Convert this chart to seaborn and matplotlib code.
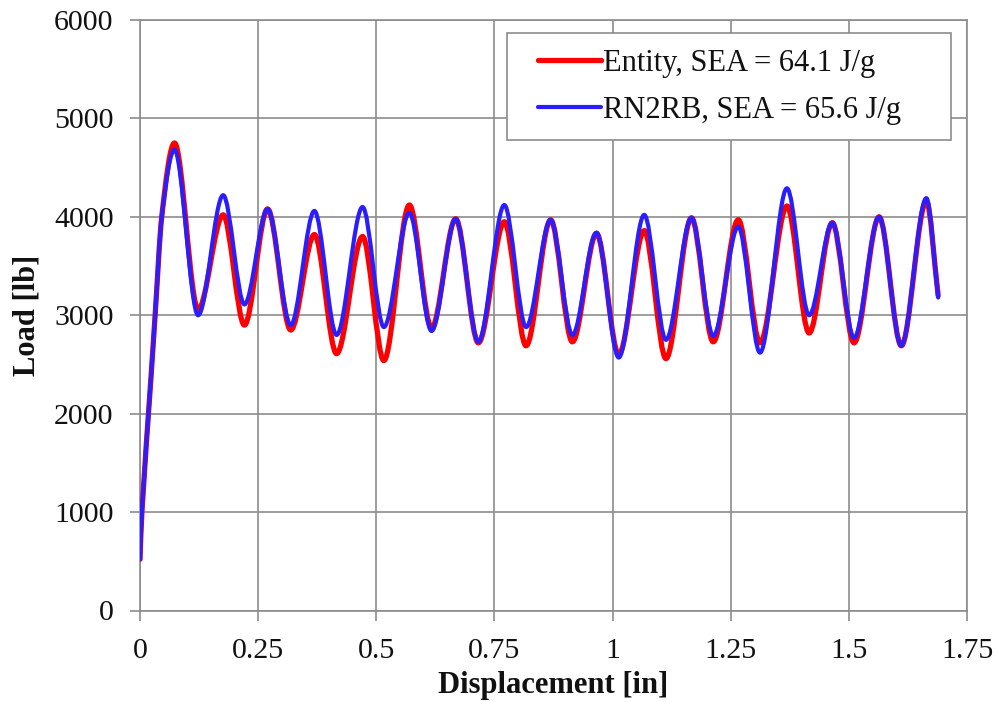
import numpy as np
import pandas as pd
import seaborn as sns
import matplotlib
matplotlib.use("Agg")
import matplotlib.pyplot as plt
from matplotlib.path import Path
from matplotlib.patches import PathPatch
from matplotlib.lines import Line2D
from matplotlib.legend_handler import HandlerLine2D

# Load–displacement readings (displacement in inches, load in lb)
displacement_entity = [0.000, 0.004, 0.023, 0.032, 0.046, 0.073, 0.123, 0.176, 0.221,
                       0.270, 0.319, 0.369, 0.416, 0.471, 0.516, 0.570, 0.617, 0.668,
                       0.716, 0.771, 0.817, 0.869, 0.915, 0.966, 1.013, 1.067, 1.113,
                       1.167, 1.213, 1.266, 1.312, 1.369, 1.416, 1.465, 1.511, 1.564,
                       1.611, 1.664, 1.689]
load_entity = [520, 1000, 2350, 3000, 4000, 4750, 3060, 4020, 2900,
               4080, 2850, 3820, 2610, 3800, 2540, 4120, 2870, 3980,
               2720, 3950, 2690, 3970, 2730, 3830, 2600, 3860, 2560,
               3990, 2730, 3970, 2720, 4110, 2820, 3940, 2720, 4000,
               2690, 4160, 3200]

displacement_rn2rb = [0.000, 0.004, 0.023, 0.032, 0.046, 0.073, 0.123, 0.176, 0.221,
                      0.270, 0.319, 0.369, 0.416, 0.471, 0.516, 0.570, 0.617, 0.668,
                      0.716, 0.771, 0.817, 0.869, 0.915, 0.966, 1.013, 1.067, 1.113,
                      1.167, 1.213, 1.266, 1.312, 1.369, 1.416, 1.465, 1.511, 1.564,
                      1.611, 1.664, 1.689]
load_rn2rb = [520, 1000, 2350, 3000, 4000, 4680, 3000, 4220, 3110,
              4080, 2900, 4060, 2800, 4100, 2880, 4040, 2840, 3980,
              2730, 4120, 2880, 3970, 2800, 3840, 2570, 4020, 2750,
              3990, 2790, 3900, 2620, 4290, 3000, 3940, 2770, 4000,
              2690, 4190, 3180]

series_labels = ["Entity, SEA = 64.1 J/g", "RN2RB, SEA = 65.6 J/g"]
series_colors = ["#ff0000", "#2a1eff"]
series_widths = [3.8, 3.0]

x_ticks = [0, 0.25, 0.5, 0.75, 1.0, 1.25, 1.5, 1.75]
x_tick_labels = ["0", "0.25", "0.5", "0.75", "1", "1.25", "1.5", "1.75"]
y_ticks = [0, 1000, 2000, 3000, 4000, 5000, 6000]
y_tick_labels = ["0", "1000", "2000", "3000", "4000", "5000", "6000"]

frame = pd.concat([
    pd.DataFrame({"Displacement": displacement_entity, "Load": load_entity,
                  "Series": series_labels[0]}),
    pd.DataFrame({"Displacement": displacement_rn2rb, "Load": load_rn2rb,
                  "Series": series_labels[1]}),
], ignore_index=True)

sns.set_theme(style="whitegrid")
plt.rcParams["font.family"] = ["Liberation Serif", "DejaVu Serif"]
plt.rcParams["mathtext.default"] = "regular"

grid_color = "#8c8c8c"

fig = plt.figure(figsize=(9.98, 7.02), dpi=100)
fig.patch.set_facecolor("white")
ax = fig.add_axes([140 / 998, 1 - 610.5 / 702, 827 / 998, 590.5 / 702])
ax.set_facecolor("white")


def smooth_curve(xs, ys):
    """Smoothed line through the readings: cubic Hermite segments written as
    Bezier curves, flat at each local peak or trough."""
    xs = np.asarray(xs, float)
    ys = np.asarray(ys, float)
    n = len(xs)
    slopes = np.zeros(n)
    for i in range(n):
        if i == 0:
            slopes[i] = (ys[1] - ys[0]) / (xs[1] - xs[0])
        elif i == n - 1:
            slopes[i] = (ys[-1] - ys[-2]) / (xs[-1] - xs[-2])
        elif (ys[i] - ys[i - 1]) * (ys[i + 1] - ys[i]) <= 0:
            slopes[i] = 0.0
        else:
            slopes[i] = (ys[i + 1] - ys[i - 1]) / (xs[i + 1] - xs[i - 1])
    verts = [(xs[0], ys[0])]
    codes = [Path.MOVETO]
    for i in range(n - 1):
        h = xs[i + 1] - xs[i]
        verts += [(xs[i] + h / 3, ys[i] + slopes[i] * h / 3),
                  (xs[i + 1] - h / 3, ys[i + 1] - slopes[i + 1] * h / 3),
                  (xs[i + 1], ys[i + 1])]
        codes += [Path.CURVE4] * 3
    return Path(verts, codes)


for label, color, lw in zip(series_labels, series_colors, series_widths):
    sub = frame[frame["Series"] == label]
    patch = PathPatch(smooth_curve(sub["Displacement"], sub["Load"]),
                      facecolor="none", edgecolor=color, linewidth=lw,
                      capstyle="round", joinstyle="round", zorder=3)
    ax.add_patch(patch)

ax.set_xlim(0, 1.75)
ax.set_ylim(0, 6000)
ax.set_xticks(x_ticks)
ax.set_xticklabels(x_tick_labels)
ax.set_yticks(y_ticks)
ax.set_yticklabels(y_tick_labels)

ax.grid(True, color=grid_color, linewidth=1.2)
for side in ["left", "bottom", "top", "right"]:
    ax.spines[side].set_visible(True)
    ax.spines[side].set_color(grid_color)
    ax.spines[side].set_linewidth(1.2)

ax.tick_params(axis="both", which="major", direction="out", length=7,
               width=1.2, color=grid_color, labelsize=21.5, labelcolor="#111111")
ax.tick_params(axis="y", pad=12, left=True)
ax.tick_params(axis="x", pad=13, bottom=True)

ax.set_xlabel("Displacement [in]", fontsize=22, fontweight="bold", color="#111111",
              labelpad=5)
ax.set_ylabel("Load [lb]", fontsize=22, fontweight="bold", color="#111111",
              labelpad=9)

handles = [Line2D([], [], color=c, linewidth=w, solid_capstyle="round")
           for c, w in zip(series_colors, series_widths)]
legend = ax.legend(handles, series_labels, loc="upper right",
                   bbox_to_anchor=(0.4438, 0.5, 0.5369, 0.478), mode="expand",
                   borderaxespad=0, borderpad=0.52, fontsize=22,
                   handlelength=3.07, handletextpad=-0.45, labelspacing=0.58,
                   fancybox=False, framealpha=1, edgecolor=grid_color,
                   handler_map={Line2D: HandlerLine2D(marker_pad=0.51, numpoints=2)})
legend.get_frame().set_linewidth(1.2)
legend.set_zorder(5)
for t in legend.get_texts():
    t.set_color("#111111")

fig.savefig("out.png", dpi=100, facecolor="white")
